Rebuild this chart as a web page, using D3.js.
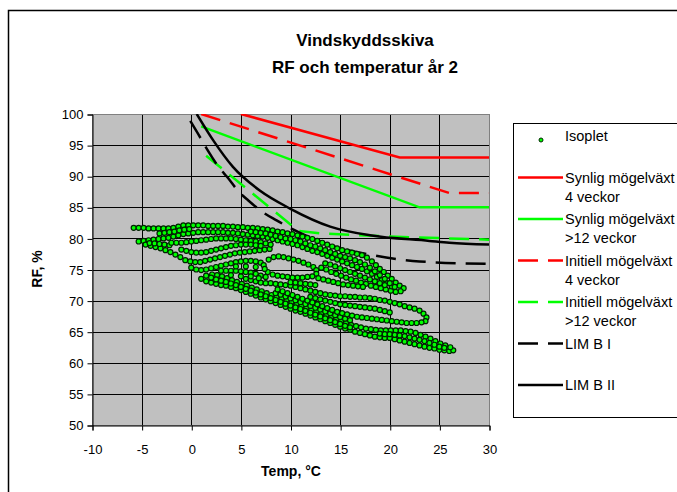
<!DOCTYPE html>
<html>
<head>
<meta charset="utf-8">
<script src="https://cdn.jsdelivr.net/npm/d3@7"></script>
<style>
  body { margin: 0; background: #fff; }
  text { font-family: "Liberation Sans", Arial, sans-serif; fill: #000; }
</style>
</head>
<body>
<script>
// axis ticks
const xTicks = [-10, -5, 0, 5, 10, 15, 20, 25, 30];
const yTicks = [50, 55, 60, 65, 70, 75, 80, 85, 90, 95, 100];

// mould growth limit curves [temp, RF]
const synlig4 = [[5, 100], [21, 93], [30, 93]];
const synlig12 = [[1, 98], [23, 85], [30, 85]];
const initiell4 = [[1, 100], [25, 87.8], [26, 87.3], [30, 87.3]];
const initiell12 = [[1.5, 93.3], [10.8, 81.2], [13, 80.8], [20, 80.3], [30, 79.8]];
const limB1 = [[-0.1, 98.9], [0.95, 96.1], [1.6, 94.3], [2.9, 91.2], [3.6, 89.9], [4.8, 87.5], [5.75, 86.1],
  [7.4, 84.0], [8.6, 82.9], [10.3, 81.4], [14, 78.9], [18, 77.4], [23, 76.3], [30, 75.9]];
const limB2 = [[0.55, 100], [2.2, 95.8], [4.2, 91.5], [6.9, 87.7], [9.95, 84.8], [14, 81.9], [18, 80.5],
  [24, 79.6], [26, 79.3], [30, 79.0]];

// isoplet readings [temp, RF]
const isoplet = [
  [-5.8,81.7],[-5.3,81.7],[-4.8,81.7],[-4.3,81.6],[-3.8,81.6],[-3.3,81.6],[-2.8,81.6],[-2.3,81.6],[-1.8,81.7],[-1.3,81.9],
  [-0.8,82.1],[-0.3,82.1],[0.2,82.1],[0.7,82.1],[1.2,82.1],[1.7,82.0],[2.2,82.0],[2.7,82.0],[3.2,82.0],[3.7,81.9],
  [4.2,81.9],[4.7,81.8],[5.2,81.8],[5.7,81.7],[6.2,81.7],[6.7,81.6],[7.2,81.5],[7.7,81.4],[8.2,81.3],[8.7,81.1],
  [9.2,81.0],[9.7,80.8],[10.2,80.7],[10.7,80.5],[11.2,80.3],[11.7,80.1],[12.2,79.9],[12.7,79.6],[13.2,79.3],[13.7,79.0],
  [14.2,78.7],[14.7,78.4],[15.2,78.1],[15.7,77.9],[16.2,77.7],[16.7,77.5],[17.2,77.3],[17.7,76.9],[18.2,76.3],[18.6,75.7],
  [19.0,75.1],[19.4,74.6],[19.8,74.0],[20.2,73.5],[20.6,72.9],[21.0,72.4],[21.4,72.0],
  [21.1,71.5],[20.6,71.4],[20.1,71.6],[19.6,71.8],[19.1,72.0],[18.6,72.2],[18.1,72.4],[17.6,72.7],[17.1,72.9],[16.6,73.2],
  [16.1,73.4],[15.6,73.7],[15.1,74.0],[14.6,74.3],[14.1,74.6],[13.6,75.0],[13.1,75.3],
  [-5.3,79.5],[-4.8,79.6],[-4.3,79.7],[-3.8,79.8],[-3.3,79.9],[-2.8,80.0],[-2.3,80.1],[-1.8,80.3],[-1.3,80.5],[-0.8,80.7],
  [-0.3,80.8],[0.2,80.9],[0.7,81.0],[1.2,81.0],[1.7,81.0],[2.2,81.0],[2.7,81.0],[3.2,81.0],[3.7,80.9],[4.2,80.9],
  [4.7,80.8],[5.2,80.7],[5.7,80.6],[6.2,80.5],[6.7,80.4],[7.2,80.3],[7.7,80.1],[8.2,79.9],[8.7,79.7],[9.2,79.5],
  [9.7,79.3],[10.2,79.1],[10.7,78.9],[11.2,78.6],[11.7,78.3],[12.2,78.0],[12.7,77.8],[13.2,77.5],[13.7,77.2],[14.2,76.9],
  [14.7,76.6],[15.2,76.3],[15.7,76.0],[16.2,75.7],[16.7,75.4],[17.2,75.1],[17.7,74.7],[18.2,74.3],[18.7,73.8],[19.2,73.3],
  [19.7,72.8],[20.2,72.3],
  [-3.2,80.8],[-2.7,80.9],[-2.2,81.0],[-1.7,81.1],[-1.2,81.3],[-0.7,81.4],[-0.2,81.5],
  [6.0,81.1],[6.5,81.0],[7.0,80.9],[7.5,80.8],[8.0,80.6],[8.5,80.4],[9.0,80.2],[9.5,80.0],[10.0,79.9],[10.5,79.7],
  [11.0,79.5],[11.5,79.2],[12.0,78.9],[12.5,78.7],[13.0,78.4],[13.5,78.1],[14.0,77.8],[14.5,77.5],[15.0,77.2],[15.5,77.0],
  [16.0,76.8],[16.5,76.5],[17.0,76.2],[17.5,75.8],[18.0,75.3],[18.5,74.7],[19.0,74.1],[19.5,73.5],[20.0,72.8],[20.5,72.2],
  [-4.6,79.0],[-4.1,78.8],[-3.6,78.6],[-3.1,78.4],[-2.6,78.1],[-2.1,77.8],[-1.6,77.4],[-1.1,77.0],[-0.6,76.5],[-0.1,76.3],
  [0.4,76.2],[0.9,76.2],[1.4,76.4],[1.9,76.6],[2.4,76.8],[2.9,77.0],[3.4,77.2],[3.9,77.4],[4.4,77.6],[4.9,77.7],
  [5.4,77.8],[5.9,77.9],[6.4,78.0],[6.9,78.1],[7.4,78.2],[7.9,78.3],
  [-4.2,79.25],[-3.7,79.2],[-3.2,79.1],[-2.7,79.0],[-2.2,78.9],
  [-2.0,79.3],[-1.5,79.3],[-1.0,79.3],[-0.5,79.4],[0.0,79.5],[0.5,79.6],[1.0,79.7],[1.5,79.8],[2.0,79.9],[2.5,80.0],
  [3.0,80.0],[3.5,80.0],[4.0,80.0],[4.5,79.9],[5.0,79.8],[5.5,79.7],[6.0,79.6],[6.5,79.5],[7.0,79.4],[7.5,79.2],[8.0,79.0],
  [-1.0,78.2],[-0.5,78.0],[0.0,77.8],[0.5,77.7],[1.0,77.7],[1.5,77.8],[2.0,78.0],[2.5,78.2],[3.0,78.4],[3.5,78.6],
  [4.0,78.8],[4.5,78.9],[5.0,79.0],[5.5,79.0],[6.0,79.0],[6.5,78.9],[7.0,78.8],
  [0.0,75.3],[0.5,75.0],[1.0,74.9],[1.5,75.0],[2.0,75.2],[2.5,75.4],[3.0,75.6],[3.5,75.8],[4.0,76.0],[4.5,76.2],
  [5.0,76.3],[5.5,76.4],[6.0,76.4],[6.5,76.3],[7.0,76.1],
  [7.3,75.7],[7.8,76.6],[8.3,77.0],[8.8,77.1],[9.3,77.0],[9.8,76.8],[10.3,76.6],[10.8,76.4],[11.3,76.1],[11.8,75.8],
  [12.3,75.4],[12.6,74.9],[12.6,74.3],[12.2,73.9],[11.7,73.8],[11.2,73.7],[10.7,73.7],[10.2,73.7],[9.7,73.8],[9.2,73.9],
  [8.7,74.0],[8.2,74.2],[7.7,74.6],[7.4,75.1],
  [1.0,73.5],[1.5,73.1],[2.0,72.9],[2.5,72.7],[3.0,72.5],[3.5,72.4],[4.0,72.2],[4.5,72.0],[5.0,71.7],[5.5,71.4],
  [6.0,71.1],[6.5,70.8],[7.0,70.5],[7.5,70.2],[8.0,69.9],[8.5,69.6],[9.0,69.3],[9.5,69.0],[10.0,68.7],[10.5,68.4],
  [11.0,68.2],[11.5,67.9],[12.0,67.6],[12.5,67.3],[13.0,67.0],[13.5,66.7],[14.0,66.4],[14.5,66.1],[15.0,65.8],[15.5,65.5],
  [16.0,65.3],[16.5,65.0],[17.0,64.8],[17.5,64.6],[18.0,64.4],[18.5,64.2],[19.0,64.1],[19.5,64.0],[20.0,64.0],[20.5,63.8],
  [21.0,63.6],[21.5,63.4],[22.0,63.2],[22.5,63.0],[23.0,62.8],[23.5,62.6],[24.0,62.4],[24.5,62.3],[25.0,62.1],[25.5,62.0],
  [26.0,61.9],[26.4,62.0],
  [26.1,62.5],[25.6,62.8],[25.1,63.1],[24.6,63.5],[24.1,63.9],[23.6,64.2],[23.1,64.5],[22.6,64.8],[22.1,65.0],[21.6,65.1],
  [21.1,65.2],[20.6,65.2],[20.1,65.2],[19.6,65.2],[19.1,65.2],[18.6,65.3],[18.1,65.4],[17.6,65.5],[17.1,65.7],[16.6,65.9],
  [16.1,66.1],[15.6,66.4],[15.1,66.7],[14.6,67.0],[14.1,67.3],[13.6,67.6],[13.1,67.9],[12.6,68.2],[12.1,68.5],[11.6,68.8],
  [11.1,69.1],[10.6,69.4],[10.1,69.7],[9.6,70.0],[9.1,70.3],[8.6,70.6],[8.1,70.9],[7.6,71.2],[7.1,71.5],[6.6,71.8],
  [6.1,72.1],[5.6,72.4],[5.1,72.7],[4.6,73.0],[4.1,73.3],[3.6,73.6],[3.1,73.9],[2.6,74.1],[2.1,74.2],
  [2.5,73.4],[3.0,73.2],[3.5,73.0],[4.0,72.75],[4.5,72.5],[5.0,72.2],[5.5,71.9],[6.0,71.6],[6.5,71.3],[7.0,71.0],
  [7.5,70.7],[8.0,70.4],[8.5,70.1],[9.0,69.8],[9.5,69.5],[10.0,69.2],[10.5,68.9],[11.0,68.65],[11.5,68.35],[12.0,68.05],
  [12.5,67.75],[13.0,67.45],[13.5,67.15],[14.0,66.85],[14.5,66.55],[15.0,66.25],[15.5,65.95],[16.0,65.7],
  [8.5,71.2],[9.0,70.95],[9.5,70.65],[10.0,70.35],[10.5,70.05],[11.0,69.75],[11.5,69.45],[12.0,69.15],[12.5,68.85],[13.0,68.55],
  [13.5,68.25],[14.0,67.95],[14.5,67.65],[15.0,67.35],[15.5,67.1],[16.0,66.85],
  [8.0,72.8],[8.5,72.7],[9.0,72.6],[9.5,72.5],[10.0,72.4],[10.5,72.2],[11.0,72.0],[11.5,71.8],[12.0,71.6],[12.5,71.4],
  [13.0,71.2],[13.5,71.0],[14.0,70.9],[14.5,70.8],[15.0,70.7],[15.5,70.7],[16.0,70.6],[16.5,70.6],[17.0,70.5],[17.5,70.5],
  [18.0,70.4],[18.5,70.3],[19.0,70.1],[19.5,70.0],[20.0,69.8],[20.5,69.6],[21.0,69.4],[21.5,69.1],[22.0,68.9],[22.5,68.7],
  [23.0,68.4],[23.4,67.9],[23.7,67.3],[23.6,66.7],
  [23.2,66.5],[22.7,66.4],[22.2,66.4],[21.7,66.4],[21.2,66.5],[20.7,66.6],[20.2,66.7],[19.7,66.8],[19.2,66.9],[18.7,67.0],
  [18.2,67.1],[17.7,67.2],[17.2,67.3],[16.7,67.4],[16.2,67.6],[15.7,67.8],[15.2,68.0],[14.7,68.2],[14.2,68.5],[13.7,68.8],
  [13.2,69.1],[12.7,69.4],[12.2,69.7],[11.7,70.0],[11.2,70.3],[10.7,70.6],[10.2,70.9],[9.7,71.2],[9.2,71.5],[8.7,71.8],
  [12.0,70.6],[12.5,70.4],[13.0,70.2],[13.5,70.0],[14.0,69.8],[14.5,69.6],[15.0,69.4],[15.5,69.3],[16.0,69.2],[16.5,69.1],
  [17.0,69.0],[17.5,68.9],[18.0,68.8],[18.5,68.7],[19.0,68.5],[19.5,68.3],[20.0,68.1],
  [10.0,72.95],[10.5,72.9],[11.0,72.8],[11.5,72.7],[12.0,72.6],[12.5,72.5],
  [3.0,74.8],[3.5,74.8],[4.0,74.8],[4.5,74.8],[5.0,74.7],[5.5,74.6],[6.0,74.5],[6.5,74.3],[7.0,74.0],[7.5,73.8],
  [12.8,73.6],[13.3,73.4],[13.8,73.2],[14.3,73.0],[14.8,72.8],[15.3,72.6],[15.8,72.5],[16.3,72.4],[16.8,72.3],[17.3,72.2],
  [13.5,76.0],[14.0,75.8],[14.5,75.5],[15.0,75.2],[15.5,74.9],[16.0,74.6],[16.5,74.3],[17.0,74.0],[17.5,73.7],[18.0,73.4],
  [18.5,73.1],[19.0,72.8],[19.5,72.5],
  [19.0,64.7],[19.5,64.6],[20.0,64.6],[20.5,64.5],[21.0,64.4],[21.5,64.3],[22.0,64.1],[22.5,63.9],[23.0,63.7],[23.5,63.5],
  [24.0,63.2],[24.5,62.9],[25.0,62.6],[25.5,62.4],
  [5.5,73.5],[6.0,73.3],[6.5,73.1],[7.0,72.9],[7.5,72.8],
  [1.5,74.0],[2.0,73.7],[4.0,74.1],[5.0,73.9],[6.0,73.9],[6.8,73.6],[4.5,75.5],[5.5,75.5],[6.5,75.4]
];

// legend entries
const legendLabels = [["Isoplet"], ["Synlig mögelväxt", "4 veckor"], ["Synlig mögelväxt", ">12 veckor"],
  ["Initiell mögelväxt", "4 veckor"], ["Initiell mögelväxt", ">12 veckor"], ["LIM B I"], ["LIM B II"]];

const W = 677, H = 492;
const mL = 92, mR = 489, mT = 114, mB = 425;
const font = '"Liberation Sans", Arial, sans-serif';

const x = d3.scaleLinear().domain([-10, 30]).range([mL, mR]);
const y = d3.scaleLinear().domain([50, 100]).range([mB, mT]);

const series = [
  { data: synlig4, color: '#ff0000', dash: null, curve: d3.curveLinear },
  { data: synlig12, color: '#00ff00', dash: null, curve: d3.curveLinear },
  { data: initiell4, color: '#ff0000', dash: '20,10', curve: d3.curveLinear },
  { data: initiell12, color: '#00ff00', dash: '20,10', curve: d3.curveLinear },
  { data: limB1, color: '#000000', dash: '20,10', curve: d3.curveMonotoneX },
  { data: limB2, color: '#000000', dash: null, curve: d3.curveMonotoneX }
];

const svg = d3.select('body').append('svg').attr('width', W).attr('height', H);

// outer chart frame
svg.append('rect')
  .attr('x', 8.5).attr('y', 10.5)
  .attr('width', W).attr('height', H)
  .attr('fill', '#fff').attr('stroke', '#000').attr('stroke-width', 1.5);

// title
const title = svg.append('text').attr('text-anchor', 'middle')
  .style('font-size', '17px').style('font-weight', 'bold');
title.append('tspan').attr('x', 365).attr('y', 46).text('Vindskyddsskiva');
title.append('tspan').attr('x', 365).attr('y', 73).text('RF och temperatur år 2');

// plot area
svg.append('rect')
  .attr('x', mL).attr('y', mT)
  .attr('width', mR - mL).attr('height', mB - mT)
  .attr('fill', '#c0c0c0');

svg.append('defs').append('clipPath').attr('id', 'clip')
  .append('rect').attr('x', mL).attr('y', mT).attr('width', mR - mL).attr('height', mB - mT);

// grid
svg.append('g')
  .selectAll('line')
  .data(yTicks)
  .join('line')
  .attr('x1', mL).attr('x2', mR)
  .attr('y1', d => Math.round(y(d)) + 0.5).attr('y2', d => Math.round(y(d)) + 0.5)
  .attr('stroke', '#000').attr('stroke-width', 1);

svg.append('g')
  .selectAll('line')
  .data(xTicks)
  .join('line')
  .attr('x1', d => Math.round(x(d)) + 0.5).attr('x2', d => Math.round(x(d)) + 0.5)
  .attr('y1', mT).attr('y2', mB)
  .attr('stroke', '#000').attr('stroke-width', 1);

svg.append('rect')
  .attr('x', mL + 0.5).attr('y', mT + 0.5)
  .attr('width', mR - mL).attr('height', mB - mT)
  .attr('fill', 'none').attr('stroke', '#808080').attr('stroke-width', 1);

// axes
const yAxis = svg.append('g')
  .attr('transform', `translate(${mL + 0.5}, 0.5)`)
  .call(d3.axisLeft(y).tickValues(yTicks).tickSize(5).tickPadding(4).tickFormat(d => String(d)));
const xAxis = svg.append('g')
  .attr('transform', `translate(0.5, ${mB + 0.5})`)
  .call(d3.axisBottom(x).tickValues(xTicks).tickSize(5).tickPadding(14).tickFormat(d => String(d)));
[yAxis, xAxis].forEach(g => {
  g.select('.domain').attr('stroke', '#000');
  g.selectAll('.tick line').attr('stroke', '#000');
  g.selectAll('.tick text').style('font-size', '13px').style('font-family', font);
});

svg.append('text')
  .attr('x', 291).attr('y', 476)
  .attr('text-anchor', 'middle')
  .style('font-size', '14px').style('font-weight', 'bold')
  .text('Temp, °C');

svg.append('text')
  .attr('transform', 'translate(42, 269) rotate(-90)')
  .attr('text-anchor', 'middle')
  .style('font-size', '14px').style('font-weight', 'bold')
  .text('RF, %');

// limit curves
const plot = svg.append('g').attr('clip-path', 'url(#clip)');
series.forEach(s => {
  plot.append('path')
    .datum(s.data)
    .attr('fill', 'none')
    .attr('stroke', s.color)
    .attr('stroke-width', 2.5)
    .attr('stroke-dasharray', s.dash)
    .attr('d', d3.line().curve(s.curve).x(d => x(d[0])).y(d => y(d[1])));
});

// isoplet points
plot.append('g')
  .selectAll('circle')
  .data(isoplet)
  .join('circle')
  .attr('cx', d => x(d[0]))
  .attr('cy', d => y(d[1]))
  .attr('r', 2.5)
  .attr('fill', '#00ff00')
  .attr('stroke', '#002200')
  .attr('stroke-width', 1.2);

// legend
const lg = svg.append('g');
lg.append('rect')
  .attr('x', 513.5).attr('y', 123.5)
  .attr('width', 200).attr('height', 294)
  .attr('fill', '#fff').attr('stroke', '#000').attr('stroke-width', 1);

const legendItems = [null, ...series];
legendLabels.forEach((lines, i) => {
  const cy = 136 + i * 41.5;
  const s = legendItems[i];
  if (s === null) {
    lg.append('circle').attr('cx', 541).attr('cy', cy + 4).attr('r', 2)
      .attr('fill', '#00ff00').attr('stroke', '#002200').attr('stroke-width', 1);
  } else {
    lg.append('line')
      .attr('x1', 518).attr('x2', 563).attr('y1', cy).attr('y2', cy)
      .attr('stroke', s.color).attr('stroke-width', 2.5)
      .attr('stroke-dasharray', s.dash);
  }
  lines.forEach((t, j) => {
    lg.append('text')
      .attr('x', 565).attr('y', cy + 5 + j * 19)
      .style('font-size', '14.5px')
      .text(t);
  });
});
</script>
</body>
</html>
